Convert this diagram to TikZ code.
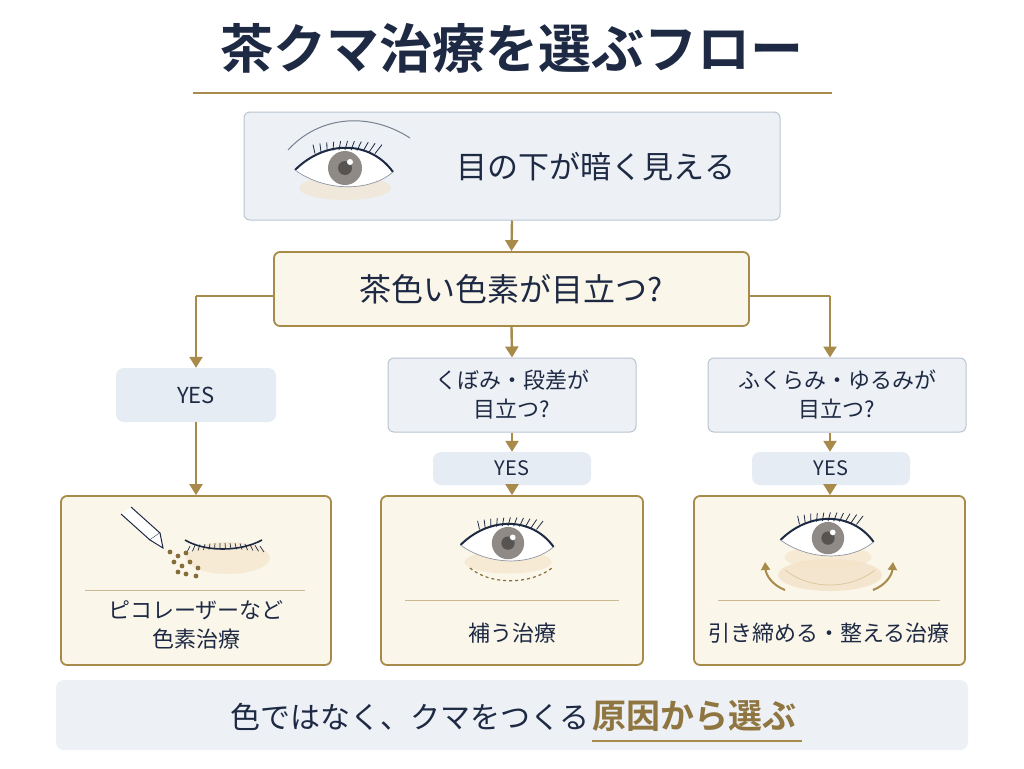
\documentclass[tikz,border=0pt]{standalone}
\usepackage{fontspec}
\setmainfont{Noto Sans CJK JP}
\newfontfamily\jpb{Noto Sans CJK JP}[BoldFont={* Bold}]
\usetikzlibrary{arrows.meta}
\definecolor{navy}{HTML}{1E2A44}
\definecolor{gold}{HTML}{A88A4A}
\definecolor{bluebg}{HTML}{EDF1F6}
\definecolor{blueln}{HTML}{B9C5D2}
\definecolor{cream}{HTML}{FBF6EA}
\definecolor{yesbg}{HTML}{E6ECF3}
\definecolor{skin}{HTML}{F3E3C8}
\definecolor{iris}{HTML}{8F8A86}
\tikzset{
  qbox/.style={draw=blueln,fill=bluebg,rounded corners=6pt,line width=1pt},
  cbox/.style={draw=gold,fill=cream,rounded corners=6pt,line width=1.8pt},
  ybox/.style={fill=yesbg,rounded corners=8pt},
  txt/.style={text=navy,align=center},
  flow/.style={draw=gold,line width=2.4pt,-{Triangle[length=11pt,width=13pt]}},
  fl/.style={draw=gold,line width=2.4pt},
  sep/.style={draw=gold!60,line width=0.9pt}
}
\newcommand{\eyeicon}[3]{% x y scale
\begin{scope}[shift={(#1,#2)},scale=#3]
 \fill[skin,opacity=0.6] (0,18) ellipse (46 and 12);
 \fill[white] (-50,0) .. controls (-20,-30) and (25,-30) .. (48,2) .. controls (25,22) and (-20,22) .. (-50,0);
 \begin{scope}
 \clip (-50,0) .. controls (-20,-30) and (25,-30) .. (48,2) .. controls (25,22) and (-20,22) .. (-50,0);
 \fill[iris] (0,-2) circle (17);
 \fill[iris!60!black] (0,-2) circle (7);
 \fill[white] (5,-8) circle (3);
 \end{scope}
 \draw[navy,line width=2pt] (-50,0) .. controls (-20,-30) and (25,-30) .. (48,2);
 \draw[navy!50,line width=0.7pt] (-50,0) .. controls (-20,22) and (25,22) .. (48,2);
 \foreach \t in {0,6,...,60}{\draw[navy,line width=0.8pt] ({-30+\t},{-20+0.004*(\t-30)*(\t-30)}) -- ++({0.15*\t-2},-9);}
\end{scope}}
\begin{document}
\begin{tikzpicture}[x=1pt,y=-1pt]
\useasboundingbox (0,0) rectangle (1024,768);
\fill[white] (0,0) rectangle (1024,768);
% title
\node[txt,font=\jpb\bfseries\fontsize{53}{58}\selectfont] (title) at (512,48) {茶クマ治療を選ぶフロー};
\draw[gold,line width=1.6pt] (193,93) -- (832,93);
% box 1
\node[qbox,minimum width=536pt,minimum height=108pt] (b1) at (512,166) {};
\eyeicon{345}{170}{1}
\draw[navy!60,line width=1pt] (288,150) .. controls (320,115) and (370,112) .. (410,138);
\node[txt,font=\fontsize{31}{34}\selectfont] (t1) at (596,167) {目の下が暗く見える};
% box 2
\node[cbox,minimum width=475pt,minimum height=74pt,txt,font=\fontsize{32}{36}\selectfont] (b2) at (511.5,289) {茶色い色素が目立つ?};
\draw[flow] (b1.south) -- (b2.north);
% second row
\node[ybox,minimum width=160pt,minimum height=54pt,txt,font=\fontsize{22}{26}\selectfont] (y1) at (196,395) {YES};
\node[qbox,minimum width=248pt,minimum height=74pt,txt,font=\fontsize{22}{29}\selectfont] (q2) at (512,395) {くぼみ・段差が\\目立つ?};
\node[qbox,minimum width=258pt,minimum height=74pt,txt,font=\fontsize{22}{29}\selectfont] (q3) at (837,395) {ふくらみ・ゆるみが\\目立つ?};
\coordinate (lc) at (196,296);
\coordinate (rc) at (830,296);
\draw[fl] (b2.west |- lc) -- (lc);
\draw[flow] (lc) -- (y1.north);
\draw[fl] (b2.east |- rc) -- (rc);
\draw[flow] (rc) -- (rc |- q3.north);
\draw[flow] (b2.south) -- (q2.north);
\node[ybox,minimum width=158pt,minimum height=33pt,txt,font=\fontsize{20}{24}\selectfont] (y2) at (512,468.5) {YES};
\node[ybox,minimum width=158pt,minimum height=33pt,txt,font=\fontsize{20}{24}\selectfont] (y3) at (831,468.5) {YES};
\draw[flow] (q2.south) -- (y2.north);
\draw[flow] (rc |- q3.south) -- (rc |- y3.north);
% result boxes
\node[cbox,minimum width=270pt,minimum height=169pt] (r1) at (196,580.5) {};
\node[cbox,minimum width=262pt,minimum height=169pt] (r2) at (512,580.5) {};
\node[cbox,minimum width=271pt,minimum height=169pt] (r3) at (829.5,580.5) {};
\draw[flow] (y1.south) -- (r1.north);
\draw[flow] (y2.south) -- (r2.north);
\draw[flow] (rc |- y3.south) -- (rc |- r3.north);
\draw[sep] (85,590) -- (305,590);
\draw[sep] (405,600) -- (619,600);
\draw[sep] (718,600) -- (940,600);
\node[txt,font=\fontsize{22}{29}\selectfont] (rt1) at (196,625) {ピコレーザーなど\\色素治療};
\node[txt,font=\fontsize{22}{26}\selectfont] (rt2) at (512,633) {補う治療};
\node[txt,font=\fontsize{22}{26}\selectfont] (rt3) at (829,633) {引き締める・整える治療};
% left illustration: closed eye + laser pen
\fill[skin,opacity=0.6] (228,558) ellipse (42 and 16);
\draw[navy,line width=1.6pt] (185,540) .. controls (205,552) and (240,552) .. (262,540);
\foreach \t in {0,5,...,70}{\draw[navy,line width=0.7pt] ({190+\t},{543+0.0025*(\t-35)*(\t-35)}) -- ++({0.1*\t-3},6);}
\draw[navy,line width=1pt,fill=white] (121,514) -- (150,540) -- (160,533) -- (131,507);
\draw[navy,line width=1pt,fill=white] (150,540) -- (163,548) -- (160,533);
\foreach \p in {(170,552),(178,556),(186,553),(174,562),(182,566),(190,562),(198,568),(186,574),(196,576),(178,572)}{\fill[gold!80!black] \p circle (2.4);}
% middle illustration
\eyeicon{508}{545}{0.95}
\draw[gold!80!black,dashed,line width=1.2pt] (470,568) .. controls (490,585) and (530,585) .. (552,568);
% right illustration
\fill[skin,opacity=0.8] (830,575) ellipse (52 and 16);
\draw[skin!70!gold,line width=0.8pt] (785,570) .. controls (810,590) and (850,590) .. (875,570);
\eyeicon{828}{540}{0.95}
\draw[gold,line width=2pt,-{Triangle[length=8pt,width=9pt]}] (785,590) .. controls (772,585) and (766,575) .. (765,562);
\draw[gold,line width=2pt,-{Triangle[length=8pt,width=9pt]}] (873,590) .. controls (886,585) and (892,575) .. (893,562);
% banner
\node[fill=bluebg,rounded corners=8pt,minimum width=912pt,minimum height=70pt] (ban) at (512,715) {};
\node[txt,font=\jpb\fontsize{30}{34}\selectfont,anchor=east,inner sep=0pt] (bt1) at (590,717) {色ではなく、クマをつくる};
\node[text=gold!85!black,font=\jpb\bfseries\fontsize{34}{38}\selectfont,anchor=west,inner sep=0pt] (bt2) at (592,716) {原因から選ぶ};
\draw[gold,line width=1.6pt] (592,741) -- (802,741);
\end{tikzpicture}
\end{document}
